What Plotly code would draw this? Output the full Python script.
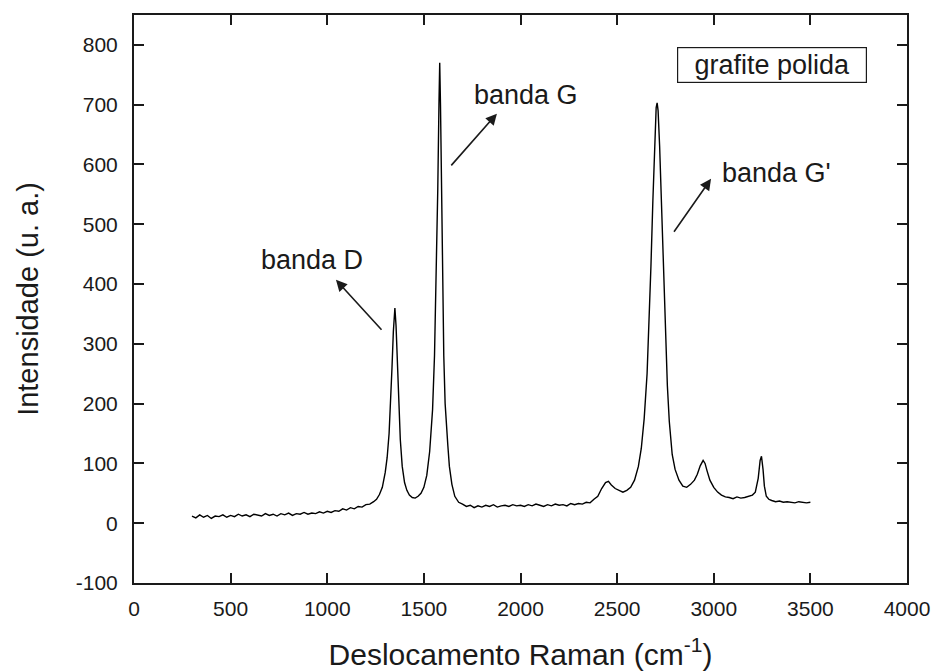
import plotly.graph_objects as go

# Raman spectrum
shift_cm = [300, 320, 340, 360, 380, 400, 420, 440, 460, 480, 500, 520, 540, 560, 580, 600, 620, 640, 660, 680,
            700, 720, 740, 760, 780, 800, 820, 840, 860, 880, 900, 920, 940, 960, 980, 1000, 1020, 1040, 1060, 1080,
            1100, 1120, 1140, 1160, 1180, 1200, 1220, 1240, 1255, 1270, 1285, 1300, 1310, 1320, 1328, 1335, 1342, 1350,
            1356, 1362, 1370, 1378, 1388, 1400, 1412, 1425, 1440, 1455, 1470, 1485, 1500, 1515, 1530, 1545, 1555, 1565,
            1572, 1578, 1582, 1586, 1591, 1597, 1603, 1610, 1616, 1620, 1624, 1632, 1645, 1660, 1680, 1700, 1720, 1740,
            1760, 1780, 1800, 1820, 1840, 1860, 1880, 1900, 1920, 1940, 1960, 1980, 2000, 2020, 2040, 2060, 2080, 2100,
            2120, 2140, 2160, 2180, 2200, 2220, 2240, 2260, 2280, 2300, 2320, 2340, 2360, 2380, 2400, 2420, 2440, 2455,
            2470, 2490, 2510, 2530, 2550, 2570, 2590, 2610, 2625, 2640, 2655, 2665, 2675, 2685, 2695, 2702, 2707, 2712,
            2720, 2730, 2740, 2750, 2760, 2770, 2785, 2800, 2820, 2840, 2860, 2880, 2900, 2915, 2930, 2945, 2955, 2965,
            2980, 3000, 3020, 3040, 3060, 3080, 3100, 3120, 3140, 3160, 3180, 3200, 3215, 3230, 3240, 3247, 3255, 3262,
            3272, 3285, 3300, 3320, 3340, 3360, 3380, 3400, 3420, 3440, 3460, 3480, 3500]
intensity = [12, 9, 14, 10, 13, 8, 12, 11, 14, 10, 13, 11, 15, 12, 14, 11, 15, 13, 12, 16,
             13, 15, 12, 16, 14, 17, 13, 16, 15, 18, 15, 17, 16, 19, 17, 20, 18, 21, 20, 24,
             22, 26, 24, 28, 27, 31, 32, 36, 40, 48, 60, 85, 110, 150, 200, 260, 320, 360,
             330, 270, 200, 140, 95, 68, 55, 47, 43, 42, 45, 50, 60, 80, 120, 190, 280, 420,
             560, 700, 770, 700, 560, 400, 280, 200, 160, 155, 130, 95, 65, 45, 35, 32, 28, 30,
             26, 29, 27, 30, 28, 31, 27, 29, 30, 28, 31, 29, 30, 28, 31, 29, 32, 30,
             28, 31, 29, 32, 30, 31, 29, 33, 31, 33, 32, 35, 34, 40, 45, 58, 68, 70,
             64, 58, 55, 52, 55, 60, 72, 95, 125, 175, 250, 330, 430, 540, 640, 695, 703, 690,
             630, 520, 410, 310, 230, 170, 115, 90, 72, 62, 60, 65, 72, 82, 96, 105, 100, 88,
             72, 60, 52, 47, 44, 43, 41, 44, 42, 43, 45, 47, 52, 75, 105, 112, 90, 62,
             45, 40, 38, 36, 37, 35, 36, 35, 34, 36, 35, 34, 35]

x_ticks = [0, 500, 1000, 1500, 2000, 2500, 3000, 3500, 4000]
x_tick_text = ["0", "500", "1000", "1500", "2000", "2500", "3000", "3500", "4000"]
y_ticks = [-100, 0, 100, 200, 300, 400, 500, 600, 700, 800]
y_tick_text = ["-100", "0", "100", "200", "300", "400", "500", "600", "700", "800"]

INK = "#1a1a1a"
FONT = "Liberation Sans, Arial, sans-serif"

fig = go.Figure()
fig.add_trace(go.Scatter(x=shift_cm, y=intensity, mode="lines",
                         line=dict(color="black", width=1.4), showlegend=False))

axis_common = dict(showline=True, linecolor=INK, linewidth=2, mirror="ticks",
                   ticks="inside", ticklen=10, tickwidth=2, tickcolor=INK,
                   showgrid=False, zeroline=False, automargin=False,
                   tickfont=dict(family=FONT, size=21, color=INK))

fig.update_xaxes(range=[0, 4000], tickvals=x_ticks, ticktext=x_tick_text, ticklabelstandoff=6,
                 **axis_common,
                 title=dict(text="Deslocamento Raman (cm<sup>-1</sup>)",
                            font=dict(family=FONT, size=30, color=INK), standoff=25))
fig.update_yaxes(range=[-100, 850], tickvals=y_ticks, ticktext=y_tick_text, ticklabelstandoff=10,
                 **axis_common,
                 title=dict(text="Intensidade (u. a.)",
                            font=dict(family=FONT, size=29, color=INK), standoff=29))

arrows = [
    # (head_x, head_y, tail_x, tail_y)
    (1045, 407, 1288, 321),
    (1878, 685, 1635, 596),
    (2986, 576, 2789, 485),
]
for hx, hy, tx, ty in arrows:
    fig.add_annotation(x=hx, y=hy, ax=tx, ay=ty, xref="x", yref="y", axref="x", ayref="y",
                       text="", showarrow=True, arrowhead=2, arrowsize=1.4,
                       arrowwidth=1.6, arrowcolor=INK)

labels = [("banda D", 921, 440), ("banda G", 2028, 716), ("banda G'", 3327, 586)]
for txt, lx, ly in labels:
    fig.add_annotation(x=lx, y=ly, xref="x", yref="y", text=txt, showarrow=False,
                       font=dict(family=FONT, size=27, color=INK))

fig.add_annotation(x=3301, y=766, xref="x", yref="y", text="grafite polida", showarrow=False,
                   font=dict(family=FONT, size=27, color=INK), width=186, height=32,
                   bordercolor=INK, borderwidth=1.2, borderpad=1, bgcolor="white")

fig.update_layout(width=936, height=671, margin=dict(l=134, r=29, t=15, b=88),
                  plot_bgcolor="white", paper_bgcolor="white")

fig.write_html("out.html")
